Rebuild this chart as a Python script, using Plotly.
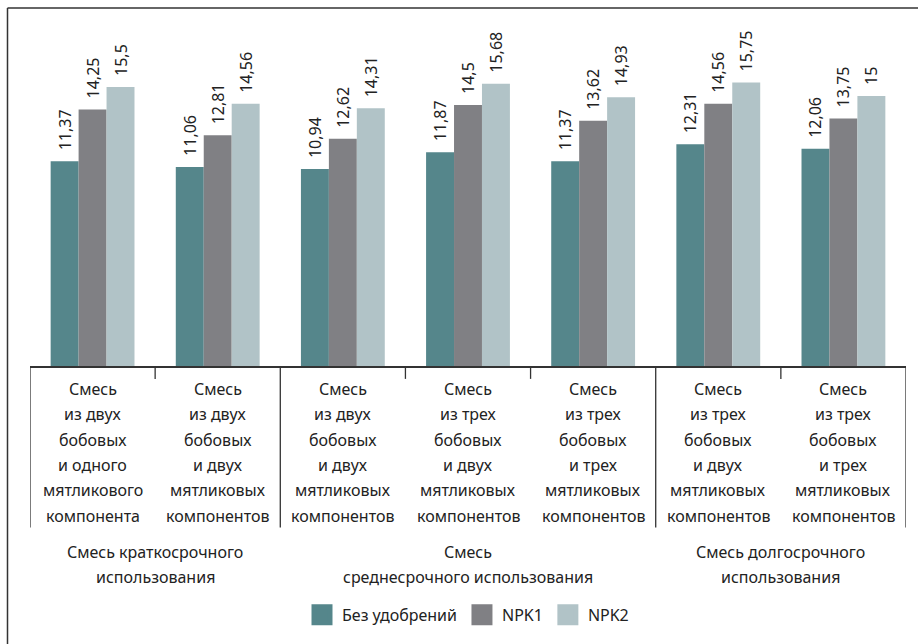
import plotly.graph_objects as go

categories = [
    ["Смесь", "из двух", "бобовых", "и одного", "мятликового", "компонента"],
    ["Смесь", "из двух", "бобовых", "и двух", "мятликовых", "компонентов"],
    ["Смесь", "из двух", "бобовых", "и двух", "мятликовых", "компонентов"],
    ["Смесь", "из трех", "бобовых", "и двух", "мятликовых", "компонентов"],
    ["Смесь", "из трех", "бобовых", "и трех", "мятликовых", "компонентов"],
    ["Смесь", "из трех", "бобовых", "и двух", "мятликовых", "компонентов"],
    ["Смесь", "из трех", "бобовых", "и трех", "мятликовых", "компонентов"],
]
groups = [
    ["Смесь краткосрочного", "использования"],
    ["Смесь", "среднесрочного использования"],
    ["Смесь долгосрочного", "использования"],
]
group_sizes = [2, 3, 2]

series_names = ["Без удобрений", "NPK1", "NPK2"]
bez = [11.37, 11.06, 10.94, 11.87, 11.37, 12.31, 12.06]
npk1 = [14.25, 12.81, 12.62, 14.5, 13.62, 14.56, 13.75]
npk2 = [15.5, 14.56, 14.31, 15.68, 14.93, 15.75, 15.0]
colors = ["#55868B", "#808084", "#B1C3C7"]

FONT = "Noto Sans"
W, H = 918, 644
ML, MR, MT, MB = 30, 12, 20, 275
PH = H - MT - MB
PW = W - ML - MR

def py(px):
    # pixel row -> paper y
    return (H - MB - px) / PH

def pxx(px):
    return (px - ML) / PW

fig = go.Figure()
x_idx = list(range(len(categories)))
for name, vals, col in zip(series_names, [bez, npk1, npk2], colors):
    fig.add_trace(go.Bar(
        x=x_idx, y=vals, name=name, marker_color=col, marker_line_width=0,
        text=["\u2002" + f"{v:g}".replace(".", ",") for v in vals],
        textposition="outside", textangle=-90, constraintext="none",
        textfont=dict(family=FONT, size=16, color="#222"),
        cliponaxis=False, showlegend=False,
    ))
    fig.add_trace(go.Scatter(
        x=[None], y=[None], mode="markers", name=name,
        marker=dict(symbol="square", size=18, color=col, line=dict(width=5, color=col)),
        showlegend=True,
    ))

annotations = []
for i, lines in enumerate(categories):
    for k, line in enumerate(lines):
        annotations.append(dict(
            x=i, xref="x", y=0, yref="paper", yanchor="middle",
            yshift=-(23 + k * 25.3), text=line, showarrow=False,
            font=dict(family=FONT, size=16, color="#222"),
        ))

shapes = []
start = -0.5
boundaries_long = [start]
for s in group_sizes:
    start += s
    boundaries_long.append(start)
short_ticks = [b for b in [i + 0.5 for i in range(len(categories) - 1)] if b not in boundaries_long]

pos = 0
for g, s in zip(groups, group_sizes):
    center = pos + (s - 1) / 2
    for k, line in enumerate(g):
        annotations.append(dict(
            x=center, xref="x", y=0, yref="paper", yanchor="middle",
            yshift=-(186 + k * 25.3), text=line, showarrow=False,
            font=dict(family=FONT, size=16, color="#222"),
        ))
    pos += s

for b in boundaries_long:
    shapes.append(dict(type="line", xref="x", yref="paper", x0=b, x1=b,
                       y0=0, y1=py(532), line=dict(color="#333", width=1.3)))
for b in short_ticks:
    shapes.append(dict(type="line", xref="x", yref="paper", x0=b, x1=b,
                       y0=0, y1=py(382), line=dict(color="#333", width=1.3)))

# outer frame (left and top edges)
shapes.append(dict(type="line", xref="paper", yref="paper", x0=pxx(7.5), x1=pxx(930),
                   y0=py(8), y1=py(8), line=dict(color="#333", width=1.5)))
shapes.append(dict(type="line", xref="paper", yref="paper", x0=pxx(7.5), x1=pxx(7.5),
                   y0=py(8), y1=py(660), line=dict(color="#333", width=1.5)))

ymax = (H - MB - MT) / 18.16

fig.update_layout(
    width=W, height=H,
    margin=dict(l=ML, r=MR, t=MT, b=MB),
    paper_bgcolor="white", plot_bgcolor="white",
    barmode="group", bargap=0.33, bargroupgap=0,
    font=dict(family=FONT, size=16, color="#222"),
    xaxis=dict(range=[-0.5, len(categories) - 0.5], showticklabels=False,
               showline=True, linecolor="#333", linewidth=1.5, ticks="",
               showgrid=False, zeroline=False, fixedrange=True),
    yaxis=dict(range=[0, ymax], visible=False, showgrid=False, zeroline=False),
    legend=dict(orientation="h", x=0.5, xanchor="center", y=py(620), yanchor="middle",
                font=dict(family=FONT, size=16, color="#222"), itemsizing="trace",
                bgcolor="rgba(0,0,0,0)"),
    annotations=annotations,
    shapes=shapes,
)

fig.write_html("out.html")
